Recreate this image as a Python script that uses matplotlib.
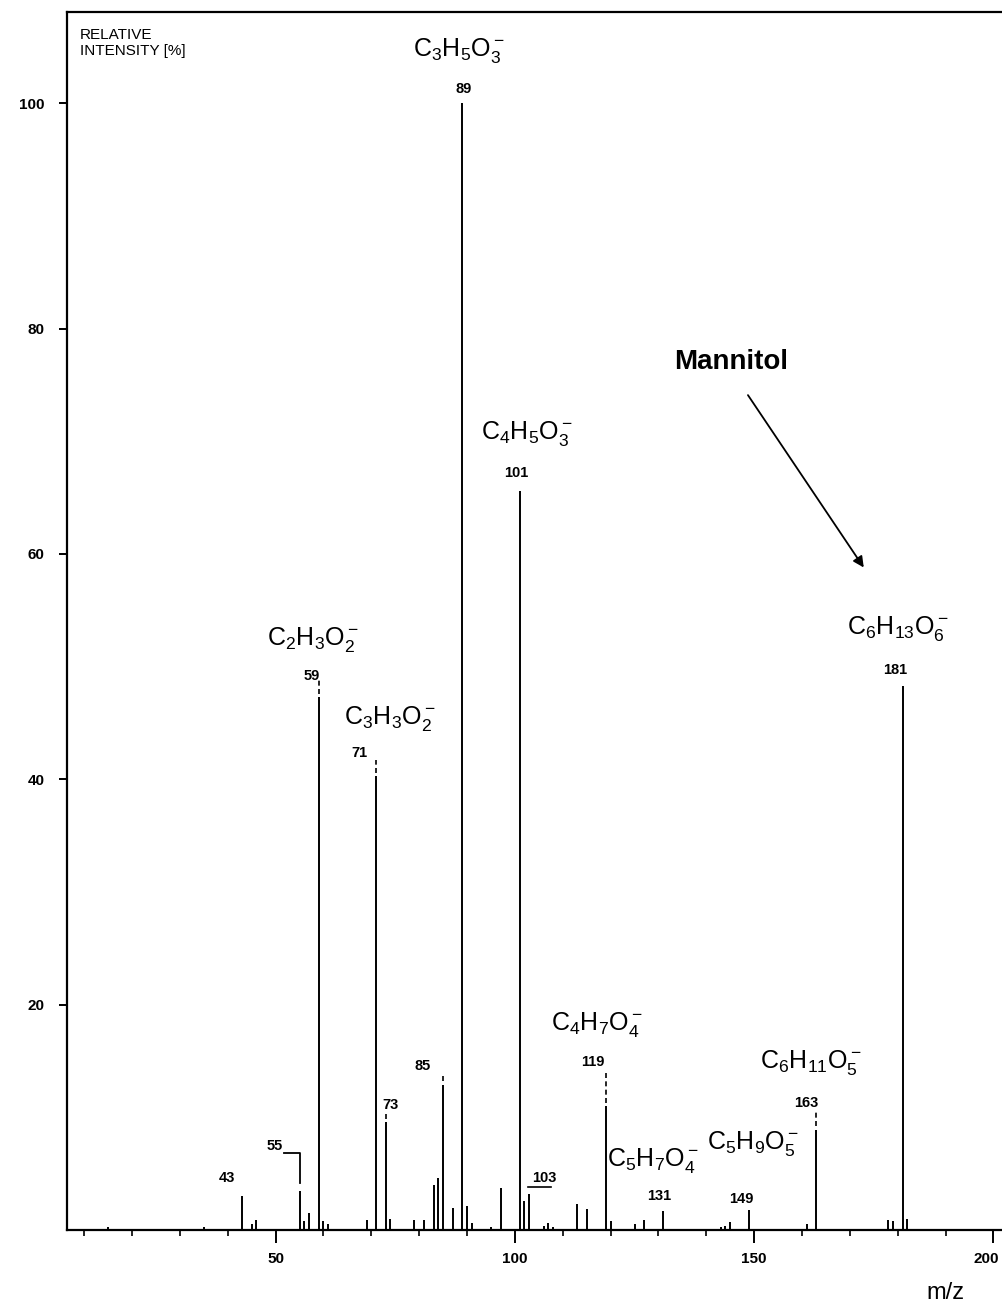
import numpy as np
import matplotlib
matplotlib.use("Agg")
import matplotlib.pyplot as plt
import matplotlib.transforms as mtransforms

plt.rcParams['font.family'] = ['Liberation Sans', 'DejaVu Sans']
plt.rcParams['mathtext.default'] = 'regular'

# Peak list (m/z, relative intensity %)
mz = [15, 35, 43, 45, 46, 55, 56, 57, 59, 60, 61, 69, 71, 73, 74, 79, 81, 83, 84,
      85, 87, 89, 90, 91, 95, 97, 101, 102, 103, 106, 107, 108, 113, 115, 119, 120,
      125, 127, 131, 143, 144, 145, 149, 161, 163, 178, 179, 181, 182]
intensity = [0.3, 0.3, 3.0, 0.5, 0.9, 3.5, 0.8, 1.5, 47.3, 0.8, 0.5, 0.9, 40.3, 9.6, 1.0,
             0.9, 0.9, 4.0, 4.6, 12.9, 2.0, 100.0, 2.1, 0.6, 0.3, 3.7, 65.6, 2.6, 3.2,
             0.4, 0.6, 0.3, 2.3, 1.9, 11.0, 0.8, 0.5, 0.9, 1.7, 0.3, 0.4, 0.7, 1.8, 0.5,
             8.9, 0.9, 0.8, 48.3, 1.0]

# labelled peaks: m/z, number label offset (dx, dy), formula, formula offset (dx, dy)
label_mz = [89, 101, 59, 71, 181, 119, 163, 131, 149]
label_num_off = [(0.3, 1.3), (-0.8, 1.6), (-1.4, 1.9), (-3.4, 2.0), (-1.6, 1.4),
                 (-2.8, 3.9), (-2.2, 2.4), (-0.8, 1.3), (-1.6, 1.0)]
formulas = [r'$C_3H_5O_3^-$', r'$C_4H_5O_3^-$', r'$C_2H_3O_2^-$', r'$C_3H_3O_2^-$',
            r'$C_6H_{13}O_6^-$', r'$C_4H_7O_4^-$', r'$C_6H_{11}O_5^-$',
            r'$C_5H_7O_4^-$', r'$C_5H_9O_5^-$']
formula_off = [(-0.6, 4.7), (1.5, 5.1), (-1.2, 5.1), (2.8, 5.1), (-1.0, 5.1),
               (-1.8, 7.2), (-1.2, 6.0), (-2.2, 4.5), (0.8, 5.9)]

# small peaks with number only
small_mz = [85, 73, 43, 103]
small_off = [(-4.2, 1.7), (1.0, 1.5), (-3.1, 1.6), (3.2, 1.4)]

# peaks with dashed leader above them
leader_mz = [59, 71, 85, 73, 119, 163]
leader_len = [1.7, 1.4, 0.9, 0.8, 2.9, 1.6]

fig = plt.figure(figsize=(10.03, 13.04), dpi=100)
ax = fig.add_axes([0.0668, 0.0567, 0.9332, 0.9341])

ax.vlines(mz, 0, intensity, color='black', linewidth=1.4)

height = dict(zip(mz, intensity))

for m, (dx, dy), f, (fx, fy) in zip(label_mz, label_num_off, formulas, formula_off):
    h = height[m]
    ax.text(m + dx, h + dy, str(m), fontsize=10.5, fontweight='bold',
            ha='center', va='center')
    ax.text(m + fx, h + fy, f, fontsize=18, ha='center', va='center')

for m, (dx, dy) in zip(small_mz, small_off):
    h = height[m]
    ax.text(m + dx, h + dy, str(m), fontsize=10.5, fontweight='bold',
            ha='center', va='center')

for m, l in zip(leader_mz, leader_len):
    h = height[m]
    ax.plot([m, m], [h + 0.3, h + l], color='black', linewidth=1.2,
            linestyle=(0, (3, 2)))

# underline for 103 and bracket for 55
ax.plot([102.7, 107.5], [3.8, 3.8], color='black', linewidth=1.2)
ax.text(49.9, 7.5, '55', fontsize=10.5, fontweight='bold', ha='center', va='center')
ax.plot([51.7, 55.0, 55.0], [6.8, 6.8, 4.2], color='black', linewidth=1.3)

# Mannitol arrow
ax.text(145.1, 77.0, 'Mannitol', fontsize=20, fontweight='bold',
        ha='center', va='center')
ax.annotate('', xy=(172.9, 58.8), xytext=(148.7, 74.1),
            arrowprops=dict(arrowstyle='-|>', color='black', lw=1.3,
                            mutation_scale=16, shrinkA=0, shrinkB=0))

ax.text(0.014, 0.987, 'RELATIVE\nINTENSITY [%]', transform=ax.transAxes,
        fontsize=11, ha='left', va='top', linespacing=1.2)

ax.set_xlim(6.4, 202.0)
ax.set_ylim(0, 108.1)
ax.set_xticks([50, 100, 150, 200])
ax.set_xticks(np.arange(10, 201, 10), minor=True)
ax.set_yticks([20, 40, 60, 80, 100])
ax.tick_params(axis='x', which='major', direction='out', length=9, width=1.4,
               pad=7, labelsize=11)
ax.tick_params(axis='x', which='minor', direction='out', length=4.5, width=1.2)
ax.tick_params(axis='y', which='major', direction='out', length=6, width=1.4,
               pad=10, labelsize=11)
for lab in ax.get_xticklabels() + ax.get_yticklabels():
    lab.set_fontweight('bold')

# last x label sits against the right edge, as in the original
last = ax.get_xticklabels()[-1]
last.set_horizontalalignment('right')
last.set_transform(last.get_transform() +
                   mtransforms.ScaledTranslation(6 / 100, 0, fig.dpi_scale_trans))

ax.spines['right'].set_visible(False)
for s in ['left', 'bottom', 'top']:
    ax.spines[s].set_linewidth(1.6)

fig.text(945 / 1003, 1 - 1293 / 1304, 'm/z', fontsize=17, ha='center', va='center')

fig.savefig('out.png', dpi=100)
